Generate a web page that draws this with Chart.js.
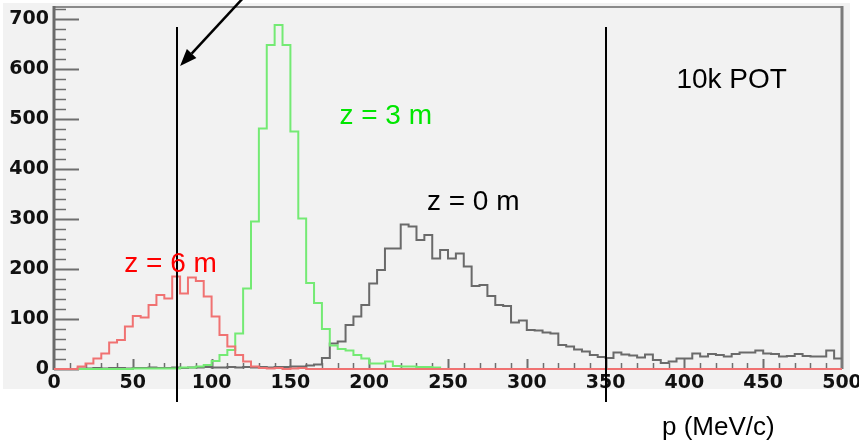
<!DOCTYPE html>
<html><head><meta charset="utf-8">
<script src="https://cdn.jsdelivr.net/npm/chart.js@4.4.1/dist/chart.umd.min.js"></script>
<style>html,body{margin:0;padding:0;background:#fff;}#wrap{width:859px;height:448px;position:relative;}</style>
</head><body><div id="wrap"><canvas id="c" width="859" height="448"></canvas></div>
<script>
// lower edges of the 5 MeV/c bins
const binLow = [0,5,10,15,20,25,30,35,40,45,50,55,60,65,70,75,80,85,90,95,
100,105,110,115,120,125,130,135,140,145,150,155,160,165,170,175,180,185,190,195,
200,205,210,215,220,225,230,235,240,245,250,255,260,265,270,275,280,285,290,295,
300,305,310,315,320,325,330,335,340,345,350,355,360,365,370,375,380,385,390,395,
400,405,410,415,420,425,430,435,440,445,450,455,460,465,470,475,480,485,490,495];
const binHigh = 500;

// z = 6 m (red)
const z6m = [0,0,0,5,11,21,31,53,58,85,106,103,128,148,141,185,151,183,176,145,
105,68,45,28,15,5,2,1,2,0,1,2,0,0,0,0,0,0,0,0,
0,0,0,0,0,0,0,0,0,0,0,0,0,0,0,0,0,0,0,0,
0,0,0,0,0,0,0,0,0,0,0,0,0,0,0,0,0,0,0,0,
0,0,0,0,0,0,0,0,0,0,0,0,0,0,0,0,0,0,0,0];

// z = 3 m (green)
const z3m = [0,0,0,0,0,0,0,0,0,0,1,1,1,1,1,1,3,3,5,8,
16,28,38,71,161,295,481,648,688,648,475,301,172,132,80,47,40,37,28,21,
11,11,15,6,5,5,4,4,3,0,0,0,0,0,0,0,0,0,0,0,
0,0,0,0,0,0,0,0,0,0,0,0,0,0,0,0,0,0,0,0,
0,0,0,0,0,0,0,0,0,0,0,0,0,0,0,0,0,0,0,0];

// z = 0 m (black)
const z0m = [0,0,0,1,1,2,1,2,2,1,2,2,3,2,2,3,2,3,3,4,
3,3,4,3,4,3,4,3,4,4,5,5,7,9,22,51,55,88,105,128,
171,198,241,241,289,285,258,268,221,238,221,231,205,166,168,146,128,126,93,97,
78,77,73,71,48,45,39,35,28,24,22,33,29,27,23,29,18,12,15,21,
21,31,25,30,28,25,30,33,33,37,31,30,25,26,30,26,25,25,37,21];

const xTickLabels = [0,50,100,150,200,250,300,350,400,450,500];
const yTickLabels = [0,100,200,300,400,500,600,700];
const xMinorStep = 10, yMinorStep = 20;
const markerLines = [78, 350];            // p of the two vertical markers
const labels = [
  {text:'z = 6 m', x:74,    y:195, color:'#ff0000'},
  {text:'z = 3 m', x:210.5, y:490, color:'#00e600'},
  {text:'z = 0 m', x:266,   y:318, color:'#000000'},
  {text:'10k POT', x:430,   y:562, color:'#000000'},
  {text:'p (MeV/c)', x:421.5, y:-132, color:'#000000', size:26}
];
const arrow = {from:{x:120, y:742}, to:{x:80, y:606}};

function toPoints(vals){
  const pts = binLow.map((x,i)=>({x:x, y:vals[i]}));
  pts.push({x:binHigh, y:vals[vals.length-1]});
  return pts;
}

const deco = {
  id:'deco',
  beforeDraw(chart){
    const ctx = chart.ctx;
    ctx.save();
    ctx.fillStyle = '#ffffff'; ctx.fillRect(0,0,chart.width,chart.height);
    ctx.fillStyle = '#f2f2f2'; ctx.fillRect(3,3,847,386);
    ctx.restore();
  },
  beforeDatasetsDraw(chart){
    const ctx = chart.ctx, a = chart.chartArea, xs = chart.scales.x, ys = chart.scales.y;
    ctx.save();
    ctx.strokeStyle = '#8a8a8a'; ctx.lineWidth = 2;
    ctx.beginPath(); ctx.moveTo(a.left, a.top); ctx.lineTo(a.right, a.top); ctx.stroke();
    ctx.strokeStyle = '#7a7a7a'; ctx.lineWidth = 3;
    ctx.beginPath(); ctx.moveTo(a.right, a.top-1); ctx.lineTo(a.right, a.bottom); ctx.stroke();
    ctx.strokeStyle = '#6a6a6a'; ctx.lineWidth = 3;
    ctx.beginPath(); ctx.moveTo(a.left, a.top-1); ctx.lineTo(a.left, a.bottom+1); ctx.stroke();
    ctx.strokeStyle = '#6e6e6e';
    for (let v = 0; v <= ys.max; v += yMinorStep){
      const major = yTickLabels.includes(v);
      const py = Math.round(ys.getPixelForValue(v)) + 0.5;
      ctx.lineWidth = major ? 2 : 1.5;
      ctx.beginPath(); ctx.moveTo(a.left, py); ctx.lineTo(a.left + (major ? 25 : 12), py); ctx.stroke();
    }
    for (let v = xMinorStep; v < xs.max; v += xMinorStep){
      const major = xTickLabels.includes(v);
      const px = Math.round(xs.getPixelForValue(v)) + 0.5;
      ctx.lineWidth = major ? 2 : 1.5;
      ctx.beginPath(); ctx.moveTo(px, a.bottom); ctx.lineTo(px, a.bottom - (major ? 10 : 6)); ctx.stroke();
    }
    ctx.restore();
  },
  afterDraw(chart){
    const ctx = chart.ctx, xs = chart.scales.x, ys = chart.scales.y;
    ctx.save();
    ctx.strokeStyle = '#000'; ctx.lineWidth = 2;
    markerLines.forEach(v=>{
      const px = Math.round(xs.getPixelForValue(v));
      ctx.beginPath(); ctx.moveTo(px, ys.getPixelForValue(684)); ctx.lineTo(px, ys.getPixelForValue(-66)); ctx.stroke();
    });
    const x0 = xs.getPixelForValue(arrow.from.x), y0 = ys.getPixelForValue(arrow.from.y);
    const x1 = xs.getPixelForValue(arrow.to.x), y1 = ys.getPixelForValue(arrow.to.y);
    const ang = Math.atan2(y1-y0, x1-x0), hl = 17, hw = 6.5;
    const bx = x1 - hl*Math.cos(ang), by = y1 - hl*Math.sin(ang);
    ctx.lineWidth = 2.5;
    ctx.beginPath(); ctx.moveTo(x0,y0); ctx.lineTo(bx,by); ctx.stroke();
    ctx.fillStyle = '#000';
    ctx.beginPath(); ctx.moveTo(x1,y1);
    ctx.lineTo(bx + hw*Math.sin(ang), by - hw*Math.cos(ang));
    ctx.lineTo(bx - hw*Math.sin(ang), by + hw*Math.cos(ang));
    ctx.closePath(); ctx.fill();
    ctx.textAlign = 'center'; ctx.textBaseline = 'alphabetic';
    labels.forEach(l=>{
      ctx.font = (l.size || 28) + 'px "Liberation Sans", Arial, sans-serif';
      ctx.fillStyle = l.color;
      ctx.fillText(l.text, xs.getPixelForValue(l.x), ys.getPixelForValue(l.y));
    });
    ctx.restore();
  }
};

const tickFont = {family:'"DejaVu Sans", sans-serif', weight:'bold', size:19};

new Chart(document.getElementById('c'), {
  type:'line',
  data:{datasets:[
    {label:'z = 6 m', data:toPoints(z6m), borderColor:'#f07272', borderWidth:2, stepped:true, order:0, clip:false},
    {label:'z = 3 m', data:toPoints(z3m), borderColor:'#74ea74', borderWidth:2, stepped:true, order:1, clip:false},
    {label:'z = 0 m', data:toPoints(z0m), borderColor:'#6a6a6a', borderWidth:2, stepped:true, order:2, clip:false}
  ]},
  options:{
    responsive:false, animation:false, devicePixelRatio:1,
    layout:{padding:{top:7, right:17, left:0, bottom:0}},
    plugins:{legend:{display:false}, tooltip:{enabled:false}},
    elements:{point:{radius:0}, line:{tension:0, fill:false}},
    scales:{
      x:{type:'linear', min:0, max:500,
         grid:{display:false, drawTicks:false}, border:{display:false},
         ticks:{stepSize:50, includeBounds:false, padding:3, color:'#111', font:tickFont, maxRotation:0, autoSkip:false},
         afterBuildTicks(s){ s.ticks = xTickLabels.map(v=>({value:v})); },
         afterFit(s){ s.height = 79; s.paddingLeft = 0; s.paddingRight = 0; }},
      y:{min:0, max:724,
         grid:{display:false, drawTicks:false}, border:{display:false},
         ticks:{stepSize:100, includeBounds:false, padding:5, color:'#111', font:tickFont},
         afterBuildTicks(s){ s.ticks = yTickLabels.map(v=>({value:v})); },
         afterFit(s){ s.width = 54; s.paddingTop = 0; s.paddingBottom = 0; }}
    }
  },
  plugins:[deco]
});
</script></body></html>
